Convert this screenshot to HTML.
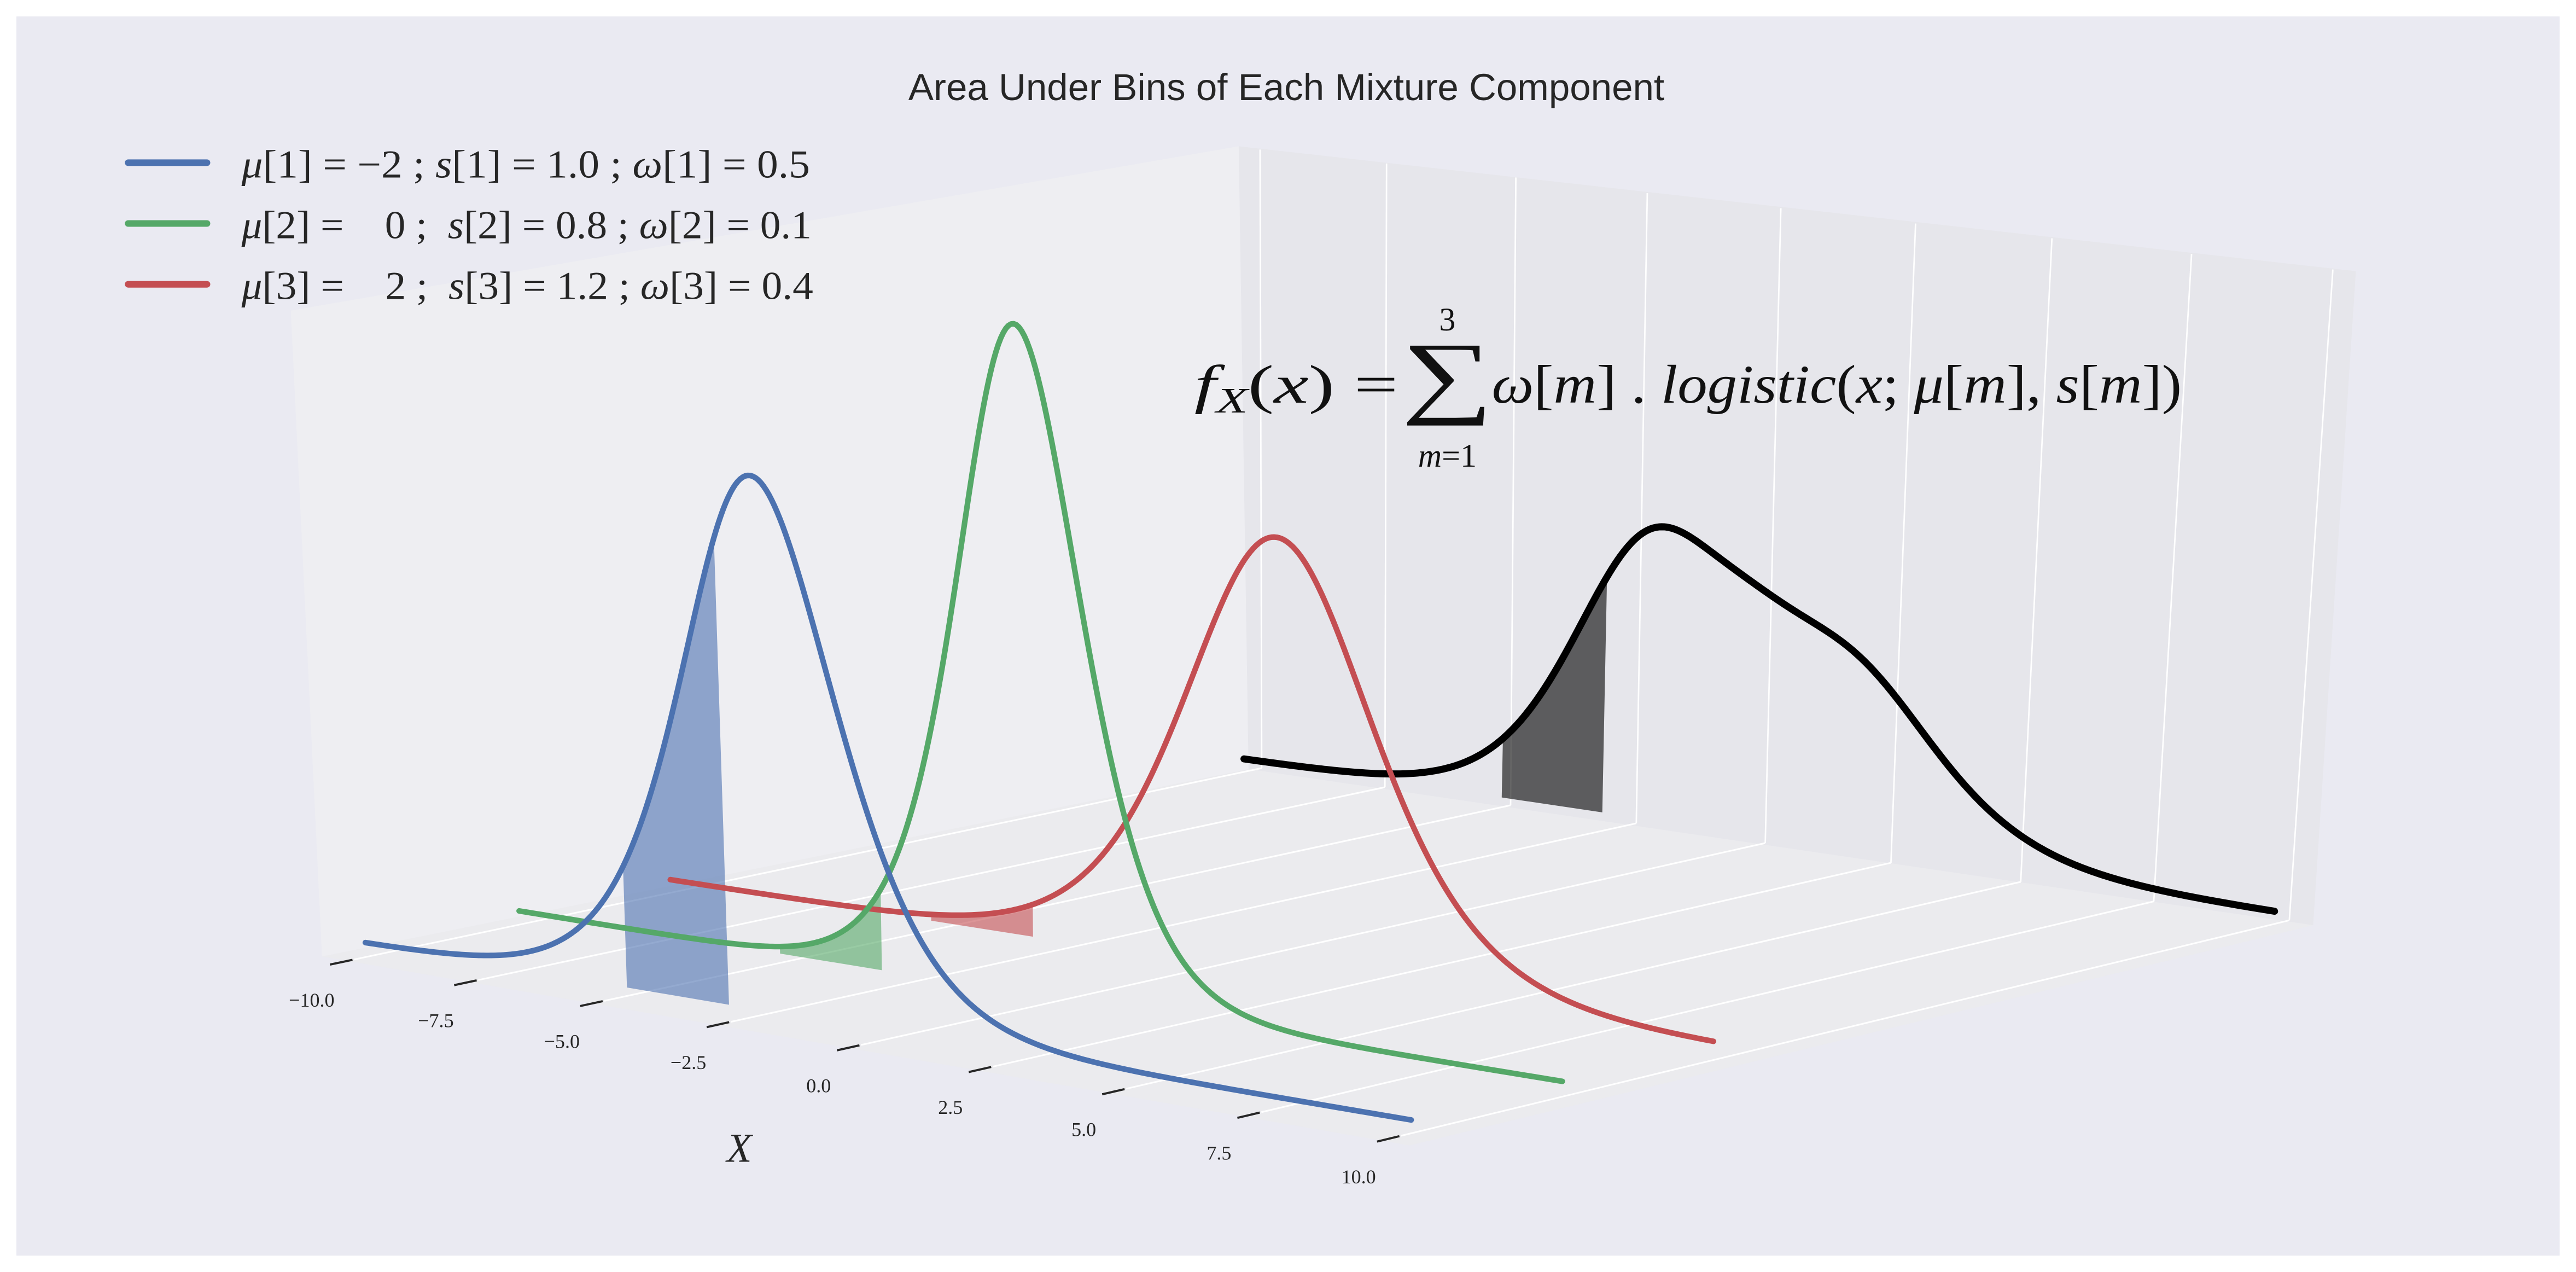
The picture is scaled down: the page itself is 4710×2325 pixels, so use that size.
<!DOCTYPE html>
<html><head><meta charset="utf-8">
<style>
html,body{margin:0;padding:0;background:#fff;}
svg{display:block;}
</style></head>
<body>
<svg id="chart" xmlns="http://www.w3.org/2000/svg" width="4710" height="2325" viewBox="0 0 1568 774">
  <rect x="0" y="0" width="1568" height="774" fill="#ffffff"/>
  <rect x="10" y="10" width="1548" height="754" fill="#eaeaf2"/>
  <polygon points="177,189 754,89 760,468 196,582" fill="#eeeef2"/>
  <polygon points="754,89 1434,165 1408,563 760,468" fill="#e6e6eb"/>
  <polygon points="196,582 760,468 1408,563 858,697" fill="#ebebee"/>
  <g id="grid"></g>
  <g id="ticks"></g>
  <g id="shades"></g>
  <g id="curves"></g>
  <text x="783" y="61" text-anchor="middle" font-family="Liberation Sans, DejaVu Sans, sans-serif" font-size="23" fill="#262626">Area Under Bins of Each Mixture Component</text>
  <text x="450" y="707" text-anchor="middle" font-family="Liberation Serif, DejaVu Serif, serif" font-style="italic" font-size="25" fill="#262626">X</text>
  <g>
    <line x1="78" y1="99" x2="126" y2="99" stroke="#4c72b0" stroke-width="4" stroke-linecap="round"/>
    <line x1="78" y1="136" x2="126" y2="136" stroke="#55a868" stroke-width="4" stroke-linecap="round"/>
    <line x1="78" y1="173" x2="126" y2="173" stroke="#c44e52" stroke-width="4" stroke-linecap="round"/>
    <text x="147" y="108" font-family="Liberation Serif, DejaVu Serif, serif" font-size="24" fill="#262626" textLength="346" lengthAdjust="spacingAndGlyphs"><tspan font-style="italic">μ</tspan>[1] = −2 ;  <tspan font-style="italic">s</tspan>[1] = 1.0 ; <tspan font-style="italic">ω</tspan>[1] = 0.5</text>
    <text x="147" y="145" font-family="Liberation Serif, DejaVu Serif, serif" font-size="24" fill="#262626" textLength="347" lengthAdjust="spacingAndGlyphs" xml:space="preserve"><tspan font-style="italic">μ</tspan>[2] =    0 ;  <tspan font-style="italic">s</tspan>[2] = 0.8 ; <tspan font-style="italic">ω</tspan>[2] = 0.1</text>
    <text x="147" y="182" font-family="Liberation Serif, DejaVu Serif, serif" font-size="24" fill="#262626" textLength="348" lengthAdjust="spacingAndGlyphs" xml:space="preserve"><tspan font-style="italic">μ</tspan>[3] =    2 ;  <tspan font-style="italic">s</tspan>[3] = 1.2 ; <tspan font-style="italic">ω</tspan>[3] = 0.4</text>
  </g>
  <g font-family="Liberation Serif, DejaVu Serif, serif" fill="#111">
    <text x="727" y="245" font-size="33" textLength="124" lengthAdjust="spacingAndGlyphs"><tspan font-style="italic">f</tspan><tspan font-style="italic" font-size="22" dy="6">X</tspan><tspan dy="-6">(</tspan><tspan font-style="italic">x</tspan>) =</text>
    <text x="881" y="247" font-size="56" text-anchor="middle" transform="translate(881,0) scale(1.4,1) translate(-881,0)">∑</text>
    <text x="881" y="201" font-size="20" text-anchor="middle">3</text>
    <text x="881" y="284" font-size="20" text-anchor="middle"><tspan font-style="italic">m</tspan>=1</text>
    <text x="908" y="245" font-size="33" textLength="420" lengthAdjust="spacingAndGlyphs"><tspan font-style="italic">ω</tspan>[<tspan font-style="italic">m</tspan>] . <tspan font-style="italic">logistic</tspan>(<tspan font-style="italic">x</tspan>; <tspan font-style="italic">μ</tspan>[<tspan font-style="italic">m</tspan>], <tspan font-style="italic">s</tspan>[<tspan font-style="italic">m</tspan>])</text>
  </g>
</svg>
<script>
// ---- data ----
const mus = [-2, 0, 2];
const scales = [1.0, 0.8, 1.2];
const weights = [0.5, 0.1, 0.4];
const binEdges = [-4.75, -2.75];
const xTicks = [-10, -7.5, -5, -2.5, 0, 2.5, 5, 7.5, 10];
const xTickLabels = ["−10.0", "−7.5", "−5.0", "−2.5", "0.0", "2.5", "5.0", "7.5", "10.0"];
const xDomain = [-10, 10];
const colors = ["#4c72b0", "#55a868", "#c44e52", "#000000"];

// ---- projection layout (per depth row) ----
const rows = [
  {sx:222.4, sy:574,   ex:859,    ey:681.5, k:1304, tilt:-0.0325, w:3.4},
  {sx:316,   sy:554.3, ex:951,    ey:658,   k:1304, tilt:-0.0155, w:3.4},
  {sx:408,   sy:535.3, ex:1043,   ey:635,   k:1280, tilt:-0.008,  w:3.4},
  {sx:757.2, sy:462,   ex:1384.5, ey:555,   k:1206, tilt:0.02,    w:4.3}
];
const CURV = 0.064;
function frac(x){ const t=(x-xDomain[0])/(xDomain[1]-xDomain[0]); return (1-CURV)*t + CURV*t*t; }
function proj(x, r, z){
  const R = rows[r], f = frac(x);
  const bx = R.sx + f*(R.ex-R.sx), by = R.sy + f*(R.ey-R.sy);
  const h = z*R.k;
  return [bx + R.tilt*h, by - h];
}
function logistic(x, m, s){ const e=Math.exp(-(x-m)/s); return e/(s*(1+e)*(1+e)); }
function mixture(x){ let v=0; for(let i=0;i<mus.length;i++) v+=weights[i]*logistic(x,mus[i],scales[i]); return v; }
function dens(r, x){ return r<3 ? logistic(x, mus[r], scales[r]) : mixture(x); }

const NS = "http://www.w3.org/2000/svg";
function mk(tag, parent){ const e=document.createElementNS(NS, tag); parent.appendChild(e); return e; }

// ---- gridlines ----
const grid = document.getElementById('grid');
const wallTop = [[767,91],[844,99.5],[922.7,108],[1002.7,117.5],[1084,126.7],[1166,136],[1249,145],[1334,154.5],[1420,164]];
const wallBot = [[768,467.4],[843,479],[919.5,490],[996,501],[1074.5,513],[1151,525],[1230,536.6],[1311,548.5],[1393.5,560]];
const tickC = [[207.7,585.5],[283.3,598],[360,610.7],[437,623.5],[516.3,637.6],[596.5,650.8],[677.7,664.3],[760,678.6],[845,693]];
for (let i=0;i<xTicks.length;i++){
  const v = mk('line', grid);
  
  
  v.setAttribute('x1', wallTop[i][0]); v.setAttribute('y1', wallTop[i][1]);
  v.setAttribute('x2', wallBot[i][0]); v.setAttribute('y2', wallBot[i][1]);
  v.setAttribute('stroke', '#ffffff'); v.setAttribute('stroke-width', '0.9');
  const dx = wallBot[i][0]-tickC[i][0], dy = wallBot[i][1]-tickC[i][1];
  const L = Math.hypot(dx,dy), ux=dx/L, uy=dy/L;
  const fl = mk('line', grid);
  
  
  fl.setAttribute('x1', tickC[i][0]+8*ux); fl.setAttribute('y1', tickC[i][1]+8*uy);
  fl.setAttribute('x2', wallBot[i][0]); fl.setAttribute('y2', wallBot[i][1]);
  fl.setAttribute('stroke', '#ffffff'); fl.setAttribute('stroke-width', '1');
  const tg = document.getElementById('ticks');
  const tk = mk('line', tg);
  
  
  tk.setAttribute('x1', tickC[i][0]-7*ux); tk.setAttribute('y1', tickC[i][1]-7*uy);
  tk.setAttribute('x2', tickC[i][0]+7*ux); tk.setAttribute('y2', tickC[i][1]+7*uy);
  tk.setAttribute('stroke', '#262626'); tk.setAttribute('stroke-width', '1.3');
  const lb = mk('text', tg);
  
  
  lb.setAttribute('x', tickC[i][0]-18); lb.setAttribute('y', tickC[i][1]+27);
  lb.setAttribute('text-anchor', 'middle');
  lb.setAttribute('font-family', 'Liberation Serif, DejaVu Serif, serif');
  lb.setAttribute('font-size', '12');
  lb.setAttribute('fill', '#262626');
  lb.textContent = xTickLabels[i];
}

// ---- shaded bins ----
const shades = document.getElementById('shades');
for (let r=3;r>=0;r--){
  const pts=[];
  const a=binEdges[0], b=binEdges[1], n=40;
  pts.push(proj(a,r,0));
  for(let j=0;j<=n;j++){ const x=a+(b-a)*j/n; pts.push(proj(x,r,dens(r,x))); }
  pts.push(proj(b,r,0));
  const p = mk('polygon', shades);
  
  
  p.setAttribute('points', pts.map(q=>q[0].toFixed(2)+','+q[1].toFixed(2)).join(' '));
  p.setAttribute('fill', r<3 ? colors[r] : '#000');
  p.setAttribute('fill-opacity', '0.6');
}

// ---- curves ----
const curves = document.getElementById('curves');
[3,2,1,0].forEach(r=>{
  const pts=[];
  const n=400;
  for(let j=0;j<=n;j++){ const x=xDomain[0]+(xDomain[1]-xDomain[0])*j/n; pts.push(proj(x,r,dens(r,x))); }
  const pl = mk('polyline', curves);
  
  
  pl.setAttribute('points', pts.map(q=>q[0].toFixed(2)+','+q[1].toFixed(2)).join(' '));
  pl.setAttribute('fill', 'none');
  pl.setAttribute('stroke', colors[r]);
  pl.setAttribute('stroke-width', rows[r].w);
  pl.setAttribute('stroke-linecap', 'round');
  pl.setAttribute('stroke-linejoin', 'round');
});
</script>
</body></html>
